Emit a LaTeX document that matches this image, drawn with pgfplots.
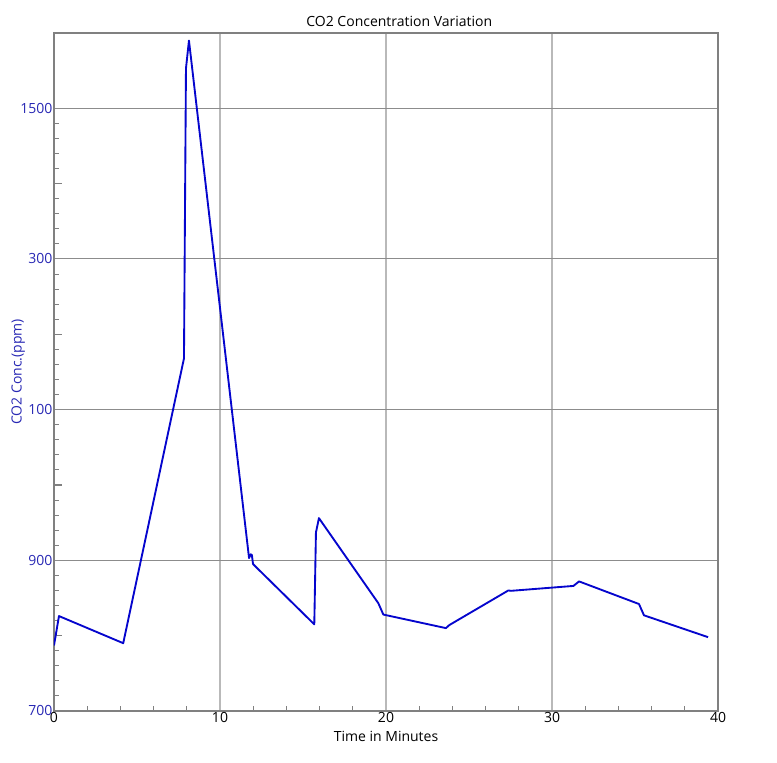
\documentclass[border=0pt]{standalone}
\usepackage{fontspec}
\setmainfont{Open Sans}
\usepackage{pgfplots}
\pgfplotsset{compat=1.18}
\usetikzlibrary{calc}
\definecolor{lineblue}{RGB}{5,5,205}
\definecolor{labelblue}{RGB}{40,40,180}
\definecolor{axisgray}{RGB}{128,128,128}
\definecolor{gridlight}{RGB}{185,185,185}
\definecolor{griddark}{RGB}{140,140,140}
\begin{document}
\begin{tikzpicture}
\begin{axis}[
  scale only axis, width=498pt, height=508.5pt,
  xmin=0, xmax=40, ymin=700, ymax=1600,
  xtick={0,10,20,30,40}, minor x tick num=4,
  ytick={700,900,1100,1300,1500}, yticklabels={700,900,100,300,1500},
  minor y tick num=9,
  extra y ticks={800,1000,1200,1400,1600}, extra y tick labels={},
  extra y tick style={grid=none, major tick length=6pt, every major tick/.style={axisgray, line width=0.9pt}},
  tick pos=left, tick align=inside,
  major tick length=0pt, minor tick length=4pt,
  every minor tick/.style={axisgray, line width=0.75pt},
  axis line style={axisgray, line width=1.5pt},
  grid=major,
  major x grid style={gridlight, line width=0.9pt},
  major y grid style={griddark, line width=0.75pt},
  /pgf/number format/assume math mode=true,
  tick label style={font=\fontsize{10.5}{12}\selectfont, inner sep=1pt},
  y tick label style={text=labelblue},
  title={CO2 Concentration Variation},
  title style={font=\fontsize{10.5}{12}\selectfont, at={(axis description cs:0.52,1.0105)}, anchor=base, yshift=-6.75pt},
  xlabel={Time in Minutes},
  xlabel style={font=\fontsize{10.5}{12}\selectfont, at={(axis description cs:0.5,-0.038)}, anchor=center},
  ylabel={CO2 Conc.(ppm)},
  ylabel style={font=\fontsize{10.5}{12}\selectfont, text=labelblue, at={(axis description cs:-0.054,0.5)}, anchor=center},
]
\addplot[lineblue, line width=1.4pt, line join=round] coordinates {
(0.0,787) (0.3,826) (4.17,790) (7.83,1168) (7.95,1553) (8.13,1590)
(11.75,903) (11.85,908) (11.92,907) (11.99,895)
(15.68,815) (15.78,937) (15.96,956)
(19.54,843) (19.84,828)
(23.61,810) (23.81,814)
(27.37,860) (27.53,859.5)
(31.29,866) (31.63,872)
(35.24,842) (35.54,827)
(39.4,798)
};
\coordinate (sw) at (rel axis cs:0,0);
\coordinate (ne) at (rel axis cs:1,1);
\end{axis}
\pgfresetboundingbox
\path ($(sw)+(-40.5pt,-39pt)$) rectangle ($(ne)+(44.25pt,24.75pt)$);
\end{tikzpicture}
\end{document}
